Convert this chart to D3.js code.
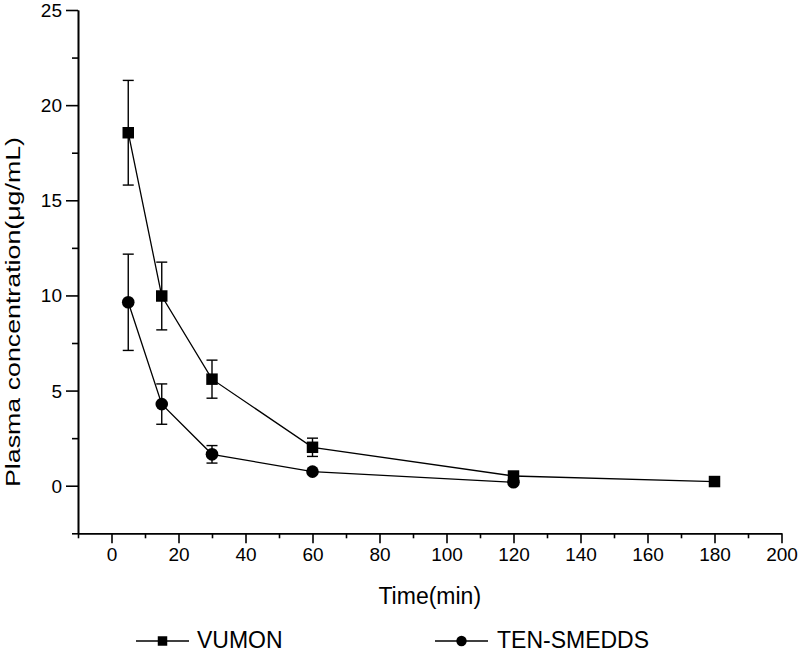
<!DOCTYPE html>
<html>
<head>
<meta charset="utf-8">
<script src="https://cdn.jsdelivr.net/npm/d3@7"></script>
<style>
  html, body { margin: 0; padding: 0; background: #fff; }
  svg { display: block; font-family: "Liberation Sans", Arial, sans-serif; }
</style>
</head>
<body>
<svg id="chart" width="799" height="653"></svg>
<script>
// ---- data ----
const times = [5, 15, 30, 60, 120, 180];
const vumonValues = [18.55, 9.97, 5.6, 2.02, 0.51, 0.22];
const vumonErrors = [2.75, 1.78, 1.0, 0.48, 0.1, 0.05];
const tenTimes = [5, 15, 30, 60, 120];
const tenValues = [9.64, 4.29, 1.65, 0.74, 0.18];
const tenErrors = [2.53, 1.06, 0.46, 0.1, 0.05];
const xMajorTicks = [0, 20, 40, 60, 80, 100, 120, 140, 160, 180, 200];
const xMinorTicks = [-10, 10, 30, 50, 70, 90, 110, 130, 150, 170, 190];
const yMajorTicks = [0, 5, 10, 15, 20, 25];
const yMinorTicks = [-2.5, 2.5, 7.5, 12.5, 17.5, 22.5];
const seriesNames = ["VUMON", "TEN-SMEDDS"];

const svg = d3.select("#chart");
const x = d3.scaleLinear().domain([-10, 200]).range([78, 781.5]);
const y = d3.scaleLinear().domain([-2.5, 25]).range([533.3, 10]);

// axes
const xAxisMajor = d3.axisBottom(x).tickValues(xMajorTicks).tickSize(10).tickSizeOuter(0).tickPadding(4).tickFormat(d3.format("d"));
const xAxisMinor = d3.axisBottom(x).tickValues(xMinorTicks).tickSize(5).tickSizeOuter(0).tickFormat("");
const yAxisMajor = d3.axisLeft(y).tickValues(yMajorTicks).tickSize(12).tickSizeOuter(0).tickPadding(4).tickFormat(d3.format("d"));
const yAxisMinor = d3.axisLeft(y).tickValues(yMinorTicks).tickSize(6).tickSizeOuter(0).tickFormat("");

function styleAxis(g) {
  g.select(".domain").attr("stroke", "#000").attr("stroke-width", 1.6);
  g.selectAll(".tick line").attr("stroke", "#000").attr("stroke-width", 1.6);
  g.selectAll(".tick text").attr("fill", "#000").style("font-size", "19px").style("font-family", '"Liberation Sans", Arial, sans-serif');
}

svg.append("g").attr("transform", `translate(0,${y(-2.5)})`).call(xAxisMinor).call(styleAxis);
svg.append("g").attr("transform", `translate(0,${y(-2.5)})`).call(xAxisMajor).call(styleAxis);
svg.append("g").attr("transform", `translate(${x(-10)},0)`).call(yAxisMinor).call(styleAxis);
svg.append("g").attr("transform", `translate(${x(-10)},0)`).call(yAxisMajor).call(styleAxis)
  .selectAll(".tick text").attr("dy", "0.34em");

// axis titles
svg.append("text")
  .attr("x", (x(-10) + x(200)) / 2).attr("y", 604)
  .attr("text-anchor", "middle").style("font-size", "23px").attr("fill", "#000")
  .text("Time(min)");

svg.append("text")
  .attr("transform", "translate(20,487) rotate(-90)")
  .attr("x", 0).attr("y", 0)
  .attr("text-anchor", "start").style("font-size", "21px").attr("fill", "#000")
  .attr("textLength", 350).attr("lengthAdjust", "spacingAndGlyphs")
  .text("Plasma concentration(μg/mL)");

const line = d3.line().x(d => x(d.t)).y(d => y(d.v));
const vumon = times.map((t, i) => ({ t, v: vumonValues[i], e: vumonErrors[i] }));
const ten = tenTimes.map((t, i) => ({ t, v: tenValues[i], e: tenErrors[i] }));

function drawSeries(data, shape) {
  svg.append("path").datum(data).attr("d", line)
    .attr("fill", "none").attr("stroke", "#000").attr("stroke-width", 1.3);
  const eb = svg.append("g").attr("stroke", "#000").attr("stroke-width", 1.4);
  data.forEach(d => {
    eb.append("line").attr("x1", x(d.t)).attr("x2", x(d.t)).attr("y1", y(d.v - d.e)).attr("y2", y(d.v + d.e));
    eb.append("line").attr("x1", x(d.t) - 5.5).attr("x2", x(d.t) + 5.5).attr("y1", y(d.v + d.e)).attr("y2", y(d.v + d.e));
    eb.append("line").attr("x1", x(d.t) - 5.5).attr("x2", x(d.t) + 5.5).attr("y1", y(d.v - d.e)).attr("y2", y(d.v - d.e));
  });
  const sym = d3.symbol().type(shape === "square" ? d3.symbolSquare : d3.symbolCircle)
    .size(shape === "square" ? 132 : 125);
  svg.append("g").selectAll("path").data(data).join("path")
    .attr("transform", d => `translate(${x(d.t)},${y(d.v)})`)
    .attr("d", sym).attr("fill", "#000");
}
drawSeries(ten, "circle");
drawSeries(vumon, "square");

// legend
const legend = [
  { name: seriesNames[0], shape: "square", x1: 136, x2: 189, tx: 197 },
  { name: seriesNames[1], shape: "circle", x1: 435, x2: 488, tx: 497 }
];
legend.forEach(l => {
  svg.append("line").attr("x1", l.x1).attr("x2", l.x2).attr("y1", 641).attr("y2", 641)
    .attr("stroke", "#000").attr("stroke-width", 1.3);
  svg.append("path")
    .attr("transform", `translate(${(l.x1 + l.x2) / 2},641)`)
    .attr("d", d3.symbol().type(l.shape === "square" ? d3.symbolSquare : d3.symbolCircle).size(l.shape === "square" ? 90 : 85))
    .attr("fill", "#000");
  svg.append("text").attr("x", l.tx).attr("y", 648)
    .style("font-size", "23px").attr("fill", "#000").text(l.name);
});
</script>
</body>
</html>
